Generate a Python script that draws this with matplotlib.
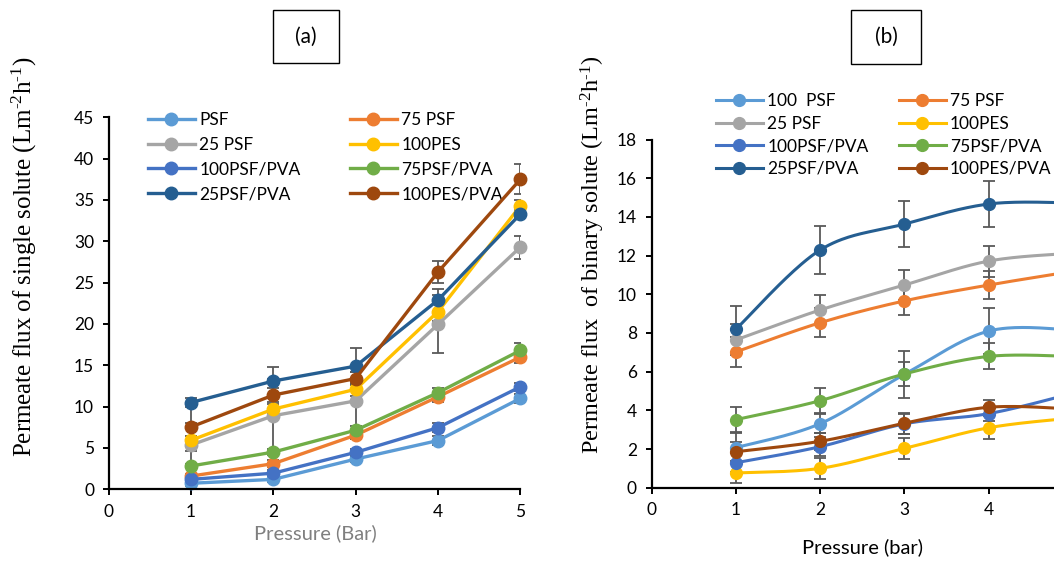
import numpy as np
import matplotlib
matplotlib.use("Agg")
import matplotlib.pyplot as plt
from matplotlib.patches import Rectangle
from matplotlib.lines import Line2D

plt.rcParams['font.family'] = ['Lato', 'DejaVu Sans']
plt.rcParams['mathtext.fontset'] = 'custom'
plt.rcParams['mathtext.rm'] = 'Liberation Serif'
plt.rcParams['mathtext.it'] = 'Liberation Serif:italic'

W, H = 1054, 563

pressure = [1, 2, 3, 4, 5]

# Excel office palette
colors = ["#5B9BD5", "#ED7D31", "#A5A5A5", "#FFC000",
          "#4472C4", "#70AD47", "#255E91", "#9E480E"]
err_color = "#595959"

# ---- (a) single solute ----
labels_a = ["PSF", "75 PSF", "25 PSF", "100PES",
            "100PSF/PVA", "75PSF/PVA", "25PSF/PVA", "100PES/PVA"]
flux_a = [
    [0.73, 1.2, 3.66, 5.9, 11.0],     # PSF
    [1.6, 3.1, 6.55, 11.2, 16.0],     # 75 PSF
    [5.36, 8.9, 10.7, 19.96, 29.3],   # 25 PSF
    [5.93, 9.7, 12.1, 21.5, 34.3],    # 100PES
    [1.2, 1.95, 4.47, 7.46, 12.4],    # 100PSF/PVA
    [2.82, 4.5, 7.15, 11.7, 16.8],    # 75PSF/PVA
    [10.5, 13.1, 14.9, 22.9, 33.3],   # 25PSF/PVA
    [7.54, 11.4, 13.4, 26.3, 37.5],   # 100PES/PVA
]
err_a = [
    [0.3, 0.3, 0.4, 0.5, 0.5],
    [0.3, 0.4, 0.5, 0.6, 0.7],
    [2.6, 4.4, 3.5, 3.5, 1.4],
    [0.5, 0.6, 0.8, 1.2, 0.7],
    [0.3, 0.4, 0.4, 0.5, 0.5],
    [0.3, 0.4, 0.5, 0.5, 0.9],
    [0.5, 1.7, 2.15, 1.3, 0.5],
    [2.9, 0.8, 0.8, 1.3, 1.8],
]

# ---- (b) binary solute ----
labels_b = ["100  PSF", "75 PSF", "25 PSF", "100PES",
            "100PSF/PVA", "75PSF/PVA", "25PSF/PVA", "100PES/PVA"]
flux_b = [
    [2.07, 3.31, 5.86, 8.1, 8.16],    # 100 PSF
    [7.02, 8.53, 9.66, 10.48, 11.19], # 75 PSF
    [7.64, 9.19, 10.48, 11.72, 12.13],# 25 PSF
    [0.76, 1.0, 2.03, 3.1, 3.61],     # 100PES
    [1.29, 2.12, 3.3, 3.83, 4.88],    # 100PSF/PVA
    [3.52, 4.5, 5.88, 6.79, 6.79],    # 75PSF/PVA
    [8.19, 12.29, 13.63, 14.67, 14.73],  # 25PSF/PVA
    [1.86, 2.4, 3.33, 4.16, 4.07],    # 100PES/PVA
]
err_b = [
    [0.77, 0.5, 1.22, 1.2, 1.2],
    [0.76, 0.75, 0.73, 0.7, 0.7],
    [0.8, 0.8, 0.8, 0.8, 0.8],
    [0.53, 0.53, 0.55, 0.6, 0.6],
    [0.5, 0.5, 0.5, 0.4, 0.4],
    [0.64, 0.65, 0.6, 0.67, 0.67],
    [1.2, 1.24, 1.2, 1.2, 1.2],
    [0.5, 0.45, 0.55, 0.4, 0.4],
]


def px_box(x0, y0, x1, y1):
    # pixel box (top-left origin) -> figure fraction rect
    return [x0 / W, 1 - y1 / H, (x1 - x0) / W, (y1 - y0) / H]


def smooth(x, y, n=40):
    # Catmull-Rom as cubic Bezier, like a spreadsheet "smoothed line"
    x = np.asarray(x, float)
    y = np.asarray(y, float)
    pts = np.column_stack([x, y])
    ext = np.vstack([pts[0], pts, pts[-1]])
    out = []
    t = np.linspace(0, 1, n)[:, None]
    for i in range(len(pts) - 1):
        p0, p1, p2, p3 = ext[i], ext[i + 1], ext[i + 2], ext[i + 3]
        c1 = p1 + (p2 - p0) / 6
        c2 = p2 - (p3 - p1) / 6
        seg = ((1 - t) ** 3) * p1 + 3 * ((1 - t) ** 2) * t * c1 \
            + 3 * (1 - t) * t ** 2 * c2 + t ** 3 * p2
        out.append(seg if i == 0 else seg[1:])
    out = np.vstack(out)
    return out[:, 0], out[:, 1]


def style_axes(ax):
    for s in ["top", "right"]:
        ax.spines[s].set_visible(False)
    for s in ["left", "bottom"]:
        ax.spines[s].set_linewidth(1.6)
        ax.spines[s].set_color("black")
    ax.tick_params(direction="out", length=4.5, width=1.4, labelsize=12.5,
                   colors="black", pad=6)


fig = plt.figure(figsize=(W / 100, H / 100), dpi=100)

order = [0, 2, 4, 6, 1, 3, 5, 7]

# panel (a)
ax1 = fig.add_axes(px_box(108.7, 117.3, 520.4, 489.3))
handles_a = []
for i in range(len(labels_a)):
    ax1.errorbar(pressure, flux_a[i], yerr=err_a[i], fmt="none",
                 ecolor=err_color, elinewidth=1.3, capsize=4.5,
                 capthick=1.3, zorder=1)
    h, = ax1.plot(pressure, flux_a[i], color=colors[i], lw=2.4,
                  marker="o", ms=9, label=labels_a[i], zorder=2 + i,
                  clip_on=False)
    handles_a.append(h)
ax1.set_xlim(0, 5)
ax1.set_ylim(0, 45)
ax1.set_xticks(range(0, 6))
ax1.set_yticks(range(0, 46, 5))
style_axes(ax1)

ax1.legend([handles_a[k] for k in order], [labels_a[k] for k in order],
           ncol=2, frameon=False, fontsize=12.5, handlelength=2.7,
           handletextpad=0.25, columnspacing=2.85, labelspacing=0.5,
           borderpad=0, borderaxespad=0, loc="upper left",
           bbox_to_anchor=(148 / W, 1 - 112 / H),
           bbox_transform=fig.transFigure)

# panel (b)
ax2 = fig.add_axes(px_box(651.5, 139.6, 1073.0, 487.7))
for i in range(len(labels_b)):
    ax2.errorbar(pressure, flux_b[i], yerr=err_b[i], fmt="none",
                 ecolor=err_color, elinewidth=1.3, capsize=4.5,
                 capthick=1.3, zorder=1)
    sx, sy = smooth(pressure, flux_b[i])
    ax2.plot(sx, sy, color=colors[i], lw=2.2, zorder=2 + i)
    ax2.plot(pressure, flux_b[i], color=colors[i], ls="none",
             marker="o", ms=8.5, zorder=2 + i)
ax2.set_xlim(0, 5)
ax2.set_ylim(0, 18)
ax2.set_xticks(range(0, 5))
ax2.set_yticks(range(0, 19, 2))
style_axes(ax2)

leg_handles_b = [Line2D([], [], color=colors[k], lw=2.2, marker="o", ms=8.5)
                 for k in order]
ax2.legend(leg_handles_b, [labels_b[k] for k in order],
           ncol=2, frameon=False, fontsize=12.5, handlelength=2.7,
           handletextpad=0.25, columnspacing=1.75, labelspacing=0.38,
           borderpad=0, borderaxespad=0, loc="upper left",
           bbox_to_anchor=(716 / W, 1 - 93 / H),
           bbox_transform=fig.transFigure)

# axis titles (hyphen U+2010 in the superscripts)
unit = "(Lm$^{\u20102}$h$^{\u20101}$)"
fig.text(24 / W, 1 - 257 / H,
         "Permeate flux of single solute " + unit,
         rotation=90, ha="center", va="center", fontsize=18,
         family="Liberation Serif")
fig.text(593 / W, 1 - 255 / H,
         "Permeate flux  of binary solute " + unit,
         rotation=90, ha="center", va="center", fontsize=17.5,
         family="Liberation Serif")
fig.text(315 / W, 1 - 533 / H, "Pressure (Bar)", ha="center", va="center",
         fontsize=14.5, color="#7F7F7F")
fig.text(862 / W, 1 - 547 / H, "Pressure (bar)", ha="center", va="center",
         fontsize=14.5, color="black")

# panel tags in boxes
for (x0, y0, x1, y1), tag in [((273, 10, 339, 63), "(a)"),
                              ((851, 10, 921, 64), "(b)")]:
    fig.patches.append(Rectangle((x0 / W, 1 - y1 / H), (x1 - x0) / W,
                                 (y1 - y0) / H, transform=fig.transFigure,
                                 fill=False, ec="black", lw=1.0))
    fig.text((x0 + x1) / 2 / W, 1 - (y0 + y1) / 2 / H, tag, ha="center",
             va="center", fontsize=15)

fig.savefig("out.png", dpi=100)
